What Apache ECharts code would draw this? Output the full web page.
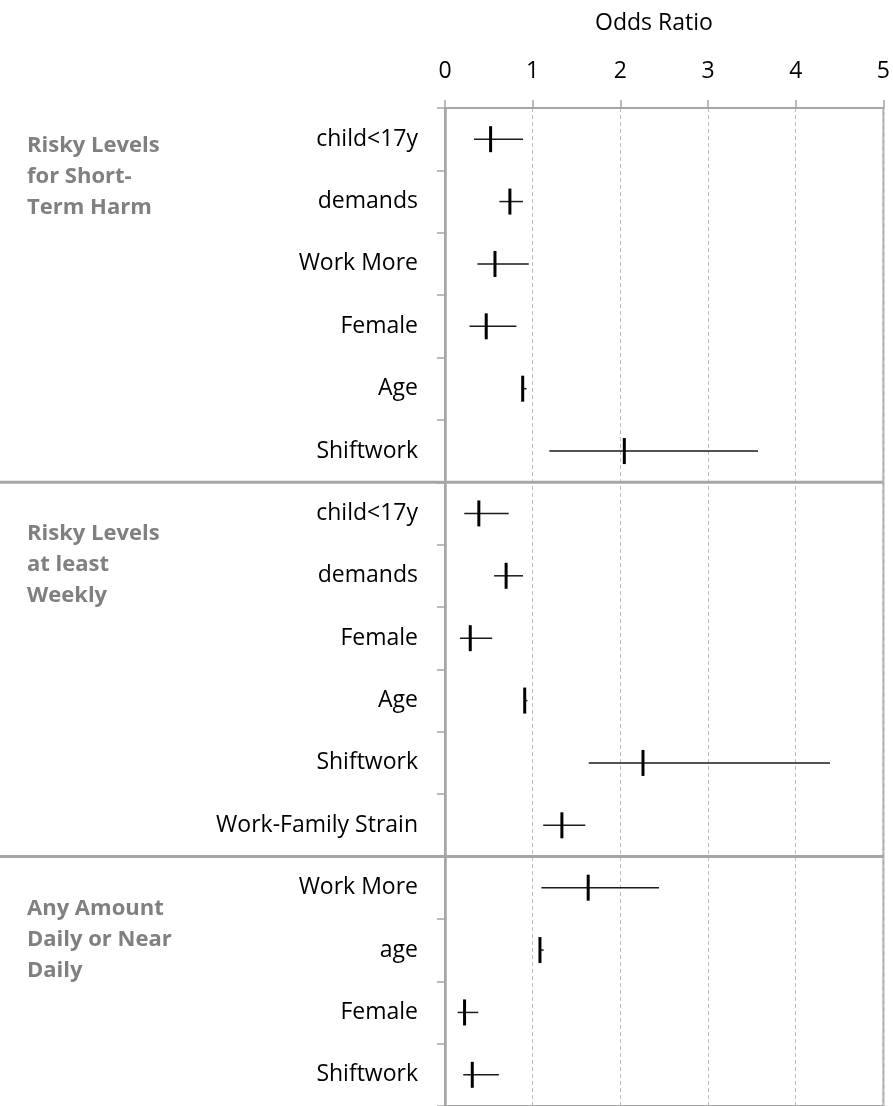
<!DOCTYPE html>
<html>
<head>
<meta charset="utf-8">
<script src="https://cdn.jsdelivr.net/npm/echarts@6/dist/echarts.min.js"></script>
<style>
html,body{margin:0;padding:0;background:#fff;}
#chart{width:893px;height:1106px;}
</style>
</head>
<body>
<div id="chart"></div>
<script>
// ---- data ----
const categories = ['child<17y','demands','Work More','Female','Age','Shiftwork',
  'child<17y','demands','Female','Age','Shiftwork','Work-Family Strain',
  'Work More','age','Female','Shiftwork'];
const estimates = [0.52, 0.74, 0.57, 0.47, 0.886, 2.045,
  0.386, 0.697, 0.288, 0.909, 2.258, 1.333,
  1.633, 1.083, 0.223, 0.311];
const lower = [0.33, 0.62, 0.37, 0.28, 0.875, 1.19,
  0.22, 0.56, 0.17, 0.90, 1.64, 1.12,
  1.10, 1.075, 0.144, 0.208];
const upper = [0.89, 0.89, 0.955, 0.815, 0.93, 3.57,
  0.727, 0.89, 0.538, 0.94, 4.39, 1.60,
  2.44, 1.125, 0.379, 0.614];
const groupLabels = ['Risky Levels\nfor Short-\nTerm Harm', 'Risky Levels\nat least\nWeekly', 'Any Amount\nDaily or Near\nDaily'];
const groupEnds = [5, 11];   // last row index of groups followed by a separator
const xTicks = [0, 1, 2, 3, 4, 5];

const FONT = 'Open Sans';
const GRAY = '#a6a6a6';

const barData = categories.map((c, i) => [estimates[i], lower[i], upper[i], i]);
const sepData = groupEnds.map(r => [xTicks[xTicks.length - 1], r]);

const chart = echarts.init(document.getElementById('chart'), null, {renderer: 'canvas'});

chart.setOption({
  animation: false,
  backgroundColor: '#ffffff',
  title: {
    text: 'Odds Ratio',
    left: 590, top: 7,
    textStyle: {fontFamily: FONT, fontSize: 23, fontWeight: 'normal', color: '#000'}
  },
  grid: {
    left: 445, right: 8, top: 108, bottom: -4.4,
    show: true, borderColor: GRAY, borderWidth: 2, backgroundColor: 'transparent'
  },
  xAxis: {
    type: 'value', position: 'top',
    min: xTicks[0], max: xTicks[xTicks.length - 1], interval: 1,
    axisLine: {show: true, lineStyle: {color: GRAY, width: 2}},
    axisTick: {show: true, length: 8, lineStyle: {color: GRAY, width: 1.5}},
    axisLabel: {fontFamily: FONT, fontSize: 23, color: '#000', margin: 25},
    splitLine: {show: true, lineStyle: {color: '#bdbdbd', width: 1, type: [4, 3]}}
  },
  yAxis: {
    type: 'category', inverse: true, data: categories,
    axisLine: {show: true, lineStyle: {color: GRAY, width: 2.5}},
    axisTick: {show: true, length: 8, lineStyle: {color: GRAY, width: 1.5}},
    axisLabel: {fontFamily: FONT, fontSize: 23, color: '#000', margin: 27, interval: 0},
    splitLine: {show: false}
  },
  graphic: [
    {type: 'text', left: 27, top: 130, style: {text: groupLabels[0], font: 'bold 22px "Open Sans"', fill: '#808080', lineHeight: 31}},
    {type: 'text', left: 27, top: 518, style: {text: groupLabels[1], font: 'bold 22px "Open Sans"', fill: '#808080', lineHeight: 31}},
    {type: 'text', left: 27, top: 893, style: {text: groupLabels[2], font: 'bold 22px "Open Sans"', fill: '#808080', lineHeight: 31}}
  ],
  series: [
    {
      type: 'custom',
      encode: {x: [0, 1, 2], y: 3},
      data: barData,
      clip: false,
      renderItem: function (params, api) {
        const row = api.value(3);
        const pEst = api.coord([api.value(0), row]);
        const pLo = api.coord([api.value(1), row]);
        const pHi = api.coord([api.value(2), row]);
        return {
          type: 'group',
          children: [
            {type: 'line', shape: {x1: pLo[0], y1: pLo[1], x2: pHi[0], y2: pHi[1]},
              style: {stroke: '#1a1a1a', lineWidth: 1.5}},
            {type: 'line', shape: {x1: pEst[0], y1: pEst[1] - 13, x2: pEst[0], y2: pEst[1] + 13},
              style: {stroke: '#000', lineWidth: 3}}
          ]
        };
      }
    },
    {
      type: 'custom',
      encode: {x: 0, y: 1},
      data: sepData,
      clip: false,
      silent: true,
      renderItem: function (params, api) {
        const r = api.value(1);
        const a = api.coord([api.value(0), r]);
        const b = api.coord([api.value(0), r + 1]);
        const y = (a[1] + b[1]) / 2;
        return {type: 'line', shape: {x1: 0, y1: y, x2: a[0], y2: y},
          style: {stroke: GRAY, lineWidth: 3}};
      }
    }
  ]
});
</script>
</body>
</html>
